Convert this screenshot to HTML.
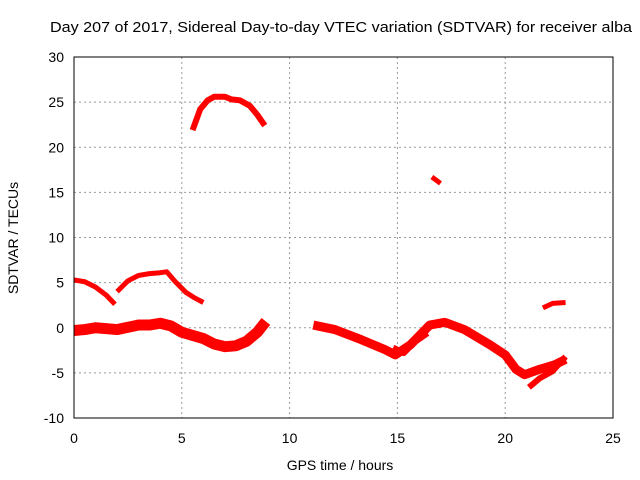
<!DOCTYPE html>
<html><head><meta charset="utf-8"><style>
body{margin:0;background:#fff}
svg{display:block;font-family:"Liberation Sans",sans-serif}
</style></head><body>
<svg width="640" height="480">
<text x="341" y="32" font-size="15" text-anchor="middle" textLength="582" lengthAdjust="spacingAndGlyphs">Day 207 of 2017, Sidereal Day-to-day VTEC variation (SDTVAR) for receiver alba</text>
<g id="grid"></g>
<g id="series"></g>
<rect x="74" y="57" width="539" height="361" fill="none" stroke="#000"/>
<g id="axes" font-size="14"></g>
<text x="340" y="470" font-size="14" text-anchor="middle">GPS time / hours</text>
<text transform="translate(18,238) rotate(-90)" font-size="14" text-anchor="middle">SDTVAR / TECUs</text>
</svg>
<script>
const xTicks=[0,5,10,15,20,25];
const yTicks=[-10,-5,0,5,10,15,20,25,30];
const segA_h=[5.5,5.85,6.2,6.5,7,7.3,7.7,8.15,8.5,8.85];
const segA_v=[21.9,24.2,25.2,25.6,25.6,25.3,25.2,24.6,23.6,22.4];
const segB_h=[0,0.5,1,1.5,1.9];
const segB_v=[5.3,5.1,4.5,3.6,2.6];
const segC_h=[2,2.5,3,3.5,4,4.3,4.7,5.2,5.6,6];
const segC_v=[4,5.2,5.8,6.0,6.1,6.2,5.1,3.9,3.3,2.8];
const segD_h=[0,0.5,1,2,3,3.5,4,4.5,5,6,6.5,7,7.5,8,8.5,8.9];
const segD_v=[-0.3,-0.2,0,-0.2,0.3,0.3,0.5,0.2,-0.5,-1.2,-1.8,-2.1,-2,-1.5,-0.5,0.7];
const segE_h=[11.1,12.1,13.3,14.4,14.9,15.6,16.5,17.2,18.1,19.3,20,20.5,20.9,21.6,22.3,22.8];
const segE_v=[0.3,-0.2,-1.3,-2.4,-3,-1.9,0.3,0.6,-0.2,-1.9,-3,-4.6,-5.2,-4.6,-4.1,-3.5];
const segF_h=[14.8,15.3,15.8,16.4];
const segF_v=[-2.2,-2.8,-1.6,-0.6];
const segG_h=[21.1,21.6,22.2,22.8];
const segG_v=[-6.6,-5.6,-4.8,-3.2];
const segH_h=[16.6,17.0];
const segH_v=[16.7,16.0];
const segI_h=[21.75,22.2,22.8];
const segI_v=[2.2,2.7,2.8];
const X=h=>74+h*(539/25);
const Y=v=>418-(v+10)*(361/40);
const NS="http://www.w3.org/2000/svg";
const grid=document.getElementById('grid'),axes=document.getElementById('axes'),ser=document.getElementById('series');
xTicks.forEach(t=>{
  if(t>0&&t<25){const l=document.createElementNS(NS,'line');
  l.setAttribute('x1',X(t));l.setAttribute('x2',X(t));l.setAttribute('y1',57);l.setAttribute('y2',418);
  l.setAttribute('stroke','#999');l.setAttribute('stroke-dasharray','2,3');
  
  
  grid.appendChild(l);}
  const tx=document.createElementNS(NS,'text');
  tx.setAttribute('x',X(t));tx.setAttribute('y',443);tx.setAttribute('text-anchor','middle');tx.textContent=t;
  
  
  axes.appendChild(tx);
});
yTicks.forEach(t=>{
  if(t>-10&&t<30){const l=document.createElementNS(NS,'line');
  l.setAttribute('x1',74);l.setAttribute('x2',613);l.setAttribute('y1',Y(t));l.setAttribute('y2',Y(t));
  l.setAttribute('stroke','#999');l.setAttribute('stroke-dasharray','2,3');
  
  
  grid.appendChild(l);}
  const tx=document.createElementNS(NS,'text');
  tx.setAttribute('x',64);tx.setAttribute('y',Y(t)+5);tx.setAttribute('text-anchor','end');tx.textContent=t;
  
  
  axes.appendChild(tx);
});
function seg(h,v,w,name){
  const p=document.createElementNS(NS,'polyline');
  p.setAttribute('points',h.map((x,i)=>X(x)+','+Y(v[i])).join(' '));
  p.setAttribute('fill','none');p.setAttribute('stroke','#f00');p.setAttribute('stroke-width',w);
  p.setAttribute('stroke-linejoin','round');
  
  
  ser.appendChild(p);
}
seg(segA_h,segA_v,6,'arc-segment');
seg(segB_h,segB_v,5,'early-segment');
seg(segC_h,segC_v,5,'morning-segment');
seg(segD_h,segD_v,11,'low-band-segment');
seg(segE_h,segE_v,9,'afternoon-segment');
seg(segF_h,segF_v,6,'loop-segment');
seg(segG_h,segG_v,6,'late-branch-segment');
seg(segH_h,segH_v,5,'short-segment');
seg(segI_h,segI_v,5,'late-upper-segment');
</script>
</body></html>
